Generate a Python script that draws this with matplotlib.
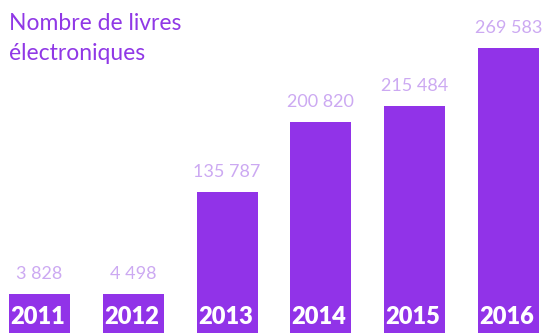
import matplotlib
matplotlib.use("Agg")
import matplotlib.pyplot as plt
import matplotlib.transforms as mtransforms

# Data
years = ["2011", "2012", "2013", "2014", "2015", "2016"]
ebooks = [3828, 4498, 135787, 200820, 215484, 269583]
value_labels = ["3 828", "4 498", "135 787", "200 820", "215 484", "269 583"]
title_lines = ["Nombre de livres", "électroniques"]

BAR_COLOR = "#9133e8"
VALUE_COLOR = "#cca9f2"
TITLE_COLOR = "#9038e6"
LABEL_BOX = 41500  # minimum block height so the year label always fits

fig = plt.figure(figsize=(5.43, 3.33), dpi=100)
ax = fig.add_axes([0, 0, 1, 1])
ax.set_axis_off()

x = list(range(len(years)))
# label block behind each bar, then the bar itself
ax.bar(x, [LABEL_BOX] * len(x), width=0.65, color=BAR_COLOR, linewidth=0)
ax.bar(x, ebooks, width=0.65, color=BAR_COLOR, linewidth=0)

ax.set_xlim(-0.421, 5.368)
ax.set_ylim(4830, 314200)

for xi, v, lab in zip(x, ebooks, value_labels):
    top = max(v, LABEL_BOX)
    ax.annotate(lab, xy=(xi, top), xytext=(0, 15), textcoords="offset pixels",
                ha="center", va="baseline", fontsize=13, color=VALUE_COLOR,
                family="Lato", fontweight="normal")

trans = mtransforms.blended_transform_factory(ax.transData, ax.transAxes)
for xi, yr in zip(x, years):
    ax.text(xi - 0.02, 1 - 324 / 333, yr, transform=trans, ha="center", va="baseline",
            fontsize=17, color="white", family="Lato", fontweight="heavy")

fig.text(9 / 543, 1 - 30 / 333, title_lines[0], ha="left", va="baseline",
         fontsize=16.5, color=TITLE_COLOR, family="Lato")
fig.text(9 / 543, 1 - 60 / 333, title_lines[1], ha="left", va="baseline",
         fontsize=16.5, color=TITLE_COLOR, family="Lato")

fig.savefig("out.png", dpi=100)
